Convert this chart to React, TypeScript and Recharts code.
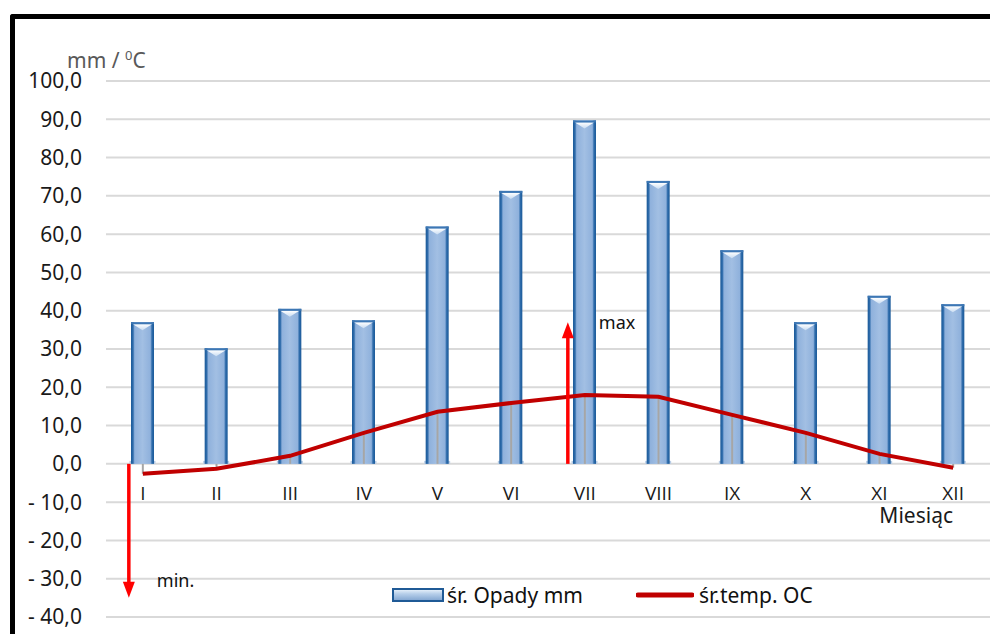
import { Bar, ComposedChart, Line, XAxis, YAxis, CartesianGrid, Legend, ReferenceLine, ErrorBar } from 'recharts'

// monthly averages
const months = ['I', 'II', 'III', 'IV', 'V', 'VI', 'VII', 'VIII', 'IX', 'X', 'XI', 'XII']
const rainfall = [37.0, 30.2, 40.5, 37.5, 62.0, 71.3, 89.7, 73.9, 55.8, 37.0, 43.9, 41.7]
const temperature = [-2.6, -1.3, 2.1, 8.1, 13.6, 15.9, 18.0, 17.5, 12.8, 8.1, 2.6, -1.0]
const yTicks = [-40, -30, -20, -10, 0, 10, 20, 30, 40, 50, 60, 70, 80, 90, 100]

const data = months.map((m, i) => ({
  month: m,
  rain: rainfall[i],
  temp: temperature[i],
  // drop line from the temperature point to zero
  drop: temperature[i] > 0 ? [temperature[i], 0] : [0, -temperature[i]],
}))

const FONT = '"Noto Sans", "Open Sans", sans-serif'

const fmt = (v: number) => {
  const s = Math.abs(v).toFixed(1).replace('.', ',')
  return v < 0 ? `- ${s}` : s
}

const BarShape = (props: any) => {
  const { x, y, width, height } = props
  if (!height || height <= 0) return null
  return (
    <g>
      <rect x={x - 1.5} y={y + height - 3} width={width + 3} height={3} fill="#b9cde6" />
      <rect x={x} y={y} width={width} height={height} fill="url(#barGrad)" />
      <polygon
        points={`${x + 2},${y + 2} ${x + width - 2},${y + 2} ${x + width / 2},${y + 8}`}
        fill="url(#capGrad)"
      />
      <rect x={x} y={y} width={width} height={2} fill="#3d77b4" />
    </g>
  )
}

// Noto Sans draws a serifed capital I, so the roman numerals use Open Sans
const renderMonth = (props: any) => (
  <text x={props.x} y={500} textAnchor="middle" fontFamily="Open Sans" fontSize={19} fill="#1a1a1a">
    {props.payload.value}
  </text>
)

const Arrow = (dx: number, label: string, lx: number, ly: number) => (props: any) => {
  const { x1, y1, x2, y2 } = props
  const ax = x1 + dx
  const up = y2 < y1
  const head = up ? `${ax - 6},${y2 + 16} ${ax + 6},${y2 + 16} ${ax},${y2}` : `${ax - 6},${y2 - 16} ${ax + 6},${y2 - 16} ${ax},${y2}`
  return (
    <g>
      <line x1={ax} y1={y1} x2={ax} y2={up ? y2 + 14 : y2 - 14} stroke="#ff0000" strokeWidth={3.5} />
      <polygon points={head} fill="#ff0000" />
      <text x={ax + lx} y={y2 + ly} fontSize={18} fill="#111" fontFamily={FONT}>
        {label}
      </text>
    </g>
  )
}

const LegendBox = () => (
  <div style={{ display: 'flex', alignItems: 'center', fontFamily: FONT, fontSize: 21, color: '#111', whiteSpace: 'nowrap' }}>
    <svg width={52} height={14} style={{ marginRight: 3 }}>
      <defs>
        <linearGradient id="legGrad" x1="0" y1="0" x2="0" y2="1">
          <stop offset="0%" stopColor="#eef5fc" />
          <stop offset="40%" stopColor="#b7cfea" />
          <stop offset="100%" stopColor="#7fa3cf" />
        </linearGradient>
      </defs>
      <rect x={1} y={1} width={50} height={12} fill="url(#legGrad)" stroke="#1f5a96" strokeWidth={2} />
    </svg>
    <span>śr. Opady mm</span>
    <svg width={58} height={14} style={{ marginLeft: 53, marginRight: 5 }}>
      <line x1={2} y1={7} x2={56} y2={7} stroke="#c00000" strokeWidth={5} strokeLinecap="round" />
    </svg>
    <span>śr.temp. OC</span>
  </div>
)

export default function App() {
  return (
    <div style={{ position: 'absolute', left: 0, top: 0, width: 990, height: 634, overflow: 'hidden', background: '#fff', fontFamily: FONT }}>
      <div
        style={{
          position: 'absolute', left: 10, top: 14, width: 1100, height: 800,
          borderTop: '5px solid #000', borderLeft: '5px solid #000', borderTopLeftRadius: 3,
        }}
      />
      <div style={{ position: 'absolute', left: 0, top: 0 }}>
        <ComposedChart width={990} height={634} data={data} margin={{ top: 81, right: 0, bottom: 0, left: 0 }}>
          <defs>
            <linearGradient id="barGrad" x1="0" y1="0" x2="1" y2="0">
              <stop offset="0%" stopColor="#1b5a99" />
              <stop offset="9%" stopColor="#2f6cab" />
              <stop offset="16%" stopColor="#8fb1dc" />
              <stop offset="50%" stopColor="#a2bfe3" />
              <stop offset="84%" stopColor="#8fb1dc" />
              <stop offset="91%" stopColor="#2f6cab" />
              <stop offset="100%" stopColor="#1b5a99" />
            </linearGradient>
            <linearGradient id="capGrad" x1="0" y1="0" x2="0" y2="1">
              <stop offset="0%" stopColor="#ffffff" />
              <stop offset="100%" stopColor="#c8dcf2" />
            </linearGradient>
          </defs>
          <CartesianGrid vertical={false} stroke="#d9d9d9" strokeWidth={2} />
          <XAxis
            dataKey="month"
            height={17}
            axisLine={false}
            tickLine={false}
            tick={renderMonth}
            interval={0}
            label={{
              content: () => (
                <text x={953} y={523} textAnchor="end" fontSize={21} fill="#1a1a1a" fontFamily={FONT}>
                  Miesiąc
                </text>
              ),
            }}
          />
          <YAxis
            width={106}
            domain={[-40, 100]}
            ticks={yTicks}
            interval={0}
            axisLine={false}
            tickLine={false}
            tickSize={0}
            tickMargin={24}
            tickFormatter={fmt}
            tick={{ fontSize: 21, fill: '#1a1a1a', fontFamily: FONT }}
            label={{
              content: () => (
                <text x={67} y={68} fontSize={21} fill="#595959" fontFamily={FONT}>
                  mm /{' '}
                  <tspan fontSize={13} dy={-8}>0</tspan>
                  <tspan dy={8}>C</tspan>
                </text>
              ),
            }}
          />
          <Legend
            verticalAlign="middle"
            align="center"
            layout="horizontal"
            content={<LegendBox />}
            wrapperStyle={{ left: 392, top: 581, width: 'auto' }}
          />
          <Bar dataKey="rain" barSize={23} shape={<BarShape />} isAnimationActive={false} />
          <Line
            dataKey="temp"
            stroke="#c00000"
            strokeWidth={4}
            dot={false}
            activeDot={false}
            isAnimationActive={false}
          >
            <ErrorBar dataKey="drop" width={0} stroke="#a6a6a6" strokeWidth={2} direction="y" />
          </Line>
          <ReferenceLine
            segment={[{ x: 'VII', y: 0 }, { x: 'VII', y: 37 }]}
            shape={Arrow(-17, 'max', 31, 7)}
          />
          <ReferenceLine
            segment={[{ x: 'I', y: 0 }, { x: 'I', y: -35 }]}
            shape={Arrow(-14, 'min.', 28, -11)}
          />
        </ComposedChart>
      </div>
    </div>
  )
}
